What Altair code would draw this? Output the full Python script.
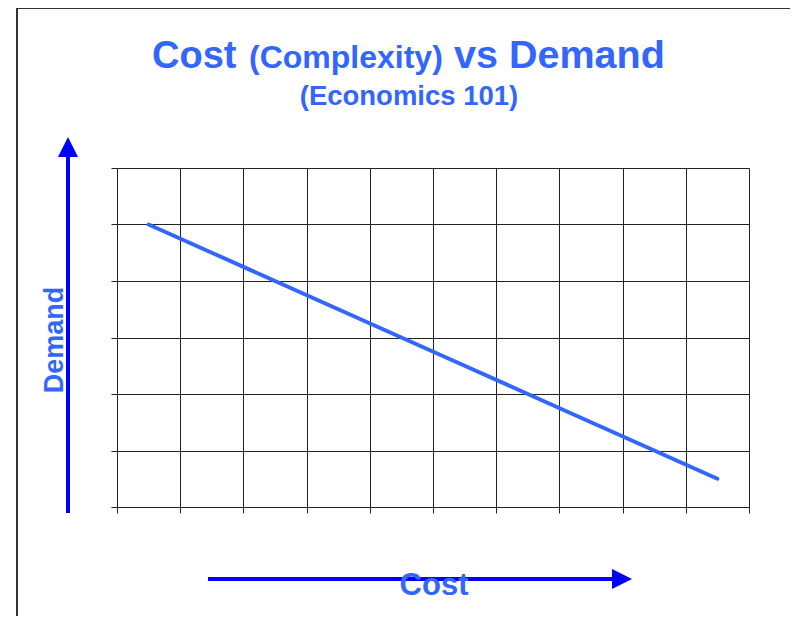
import altair as alt
import pandas as pd

# Data: cost (x, category centres) vs demand (y)
cost = [0.5, 1.5, 2.5, 3.5, 4.5, 5.5, 6.5, 7.5, 8.5, 9.5]
demand = [5.0, 4.5, 4.0, 3.5, 3.0, 2.5, 2.0, 1.5, 1.0, 0.5]
x_ticks = list(range(0, 11))
y_ticks = list(range(0, 7))

BLUE_TXT = "#3366FF"
BLUE_ARROW = "#0000FF"
W, H = 632, 339

df = pd.DataFrame({"cost": cost, "demand": demand})

base = alt.Chart(df)

line = base.mark_line(color=BLUE_TXT, strokeWidth=4, strokeCap="round").encode(
    x=alt.X("cost:Q", scale=alt.Scale(domain=[0, 10], nice=False, zero=False),
            axis=alt.Axis(values=x_ticks, labels=False, title=None, grid=True,
                          gridColor="#222", gridWidth=1, domainColor="#222",
                          tickColor="#222", tickSize=6)),
    y=alt.Y("demand:Q", scale=alt.Scale(domain=[0, 6], nice=False, zero=False),
            axis=alt.Axis(values=y_ticks, labels=False, title=None, grid=True,
                          gridColor="#222", gridWidth=1, domainColor="#222",
                          tickColor="#222", tickSize=6)),
)

one = alt.Data(values=[{"a": 1}])


def text(label, x, y, size, align="left", angle=0):
    return alt.Chart(one).mark_text(
        font="Liberation Sans", fontWeight="bold", fontSize=size, color=BLUE_TXT,
        align=align, baseline="alphabetic", angle=angle,
    ).encode(x=alt.value(x), y=alt.value(y), text=alt.value(label))


def rule(x, y, x2=None, y2=None, color=BLUE_ARROW, width=4):
    enc = dict(x=alt.value(x), y=alt.value(y))
    if x2 is not None:
        enc["x2"] = alt.value(x2)
    if y2 is not None:
        enc["y2"] = alt.value(y2)
    return alt.Chart(one).mark_rule(color=color, strokeWidth=width).encode(**enc)


def head(x, y, path):
    return alt.Chart(one).mark_point(
        shape=path, size=400, filled=True, color=BLUE_ARROW, opacity=1, strokeWidth=0
    ).encode(x=alt.value(x), y=alt.value(y))


layers = [
    # outer frame (top and left edges visible)
    rule(-100, -160, x2=700, color="#333", width=2),
    rule(-100, -160, y2=470, color="#333", width=2),
    line,
    # title
    text("Cost", 35, -100, 38),
    text("(Complexity)", 132, -100, 32),
    text("vs", 337, -100, 39.5),
    text("Demand", 392, -100, 39.5),
    text("(Economics 101)", 292, -63, 27.5, align="center"),
    # vertical arrow
    rule(-49, 345, y2=-16),
    head(-49, -21, "M0,-1L-1,1L1,1Z"),
    text("Demand", -54, 172, 27, align="center", angle=270),
    # horizontal arrow
    rule(91, 411, x2=498),
    head(505, 411, "M1,0L-1,-1L-1,1Z"),
    text("Cost", 317, 427, 31, align="center"),
]

chart = alt.layer(*layers).properties(
    width=W, height=H,
    autosize=alt.AutoSizeParams(type="none"),
    padding={"left": 109, "top": 160, "right": 41, "bottom": 109},
).configure_view(stroke=None).configure(background="white")

chart.save("out.html", embed_options={"renderer": "svg", "actions": False})
